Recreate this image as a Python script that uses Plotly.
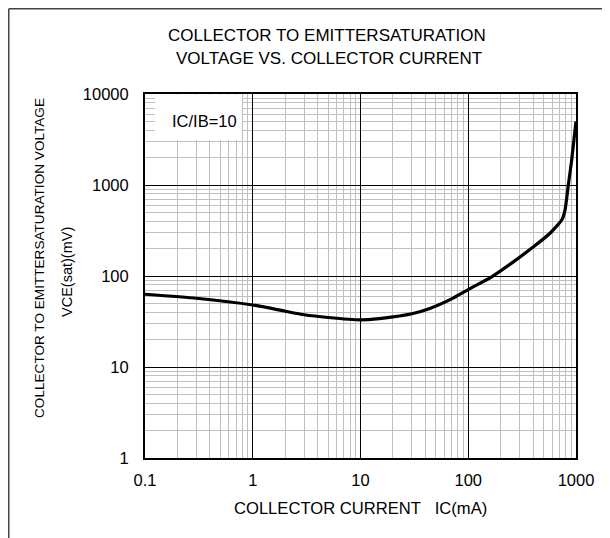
import plotly.graph_objects as go

ic_ma = [0.1, 0.3, 1, 2, 3, 5, 10, 15, 20, 30, 44, 70, 100, 165, 260, 400, 574, 737, 791, 849, 912, 1000]
vce_mv = [63, 57, 48, 41, 37.5, 35, 33, 34, 35.5, 38.5, 44, 56, 71, 98, 142, 208, 295, 412, 531, 1000, 1883, 5000]

x_ticks = [0.1, 1, 10, 100, 1000]
x_tick_text = ["0.1", "1", "10", "100", "1000"]
y_ticks = [1, 10, 100, 1000, 10000]
y_tick_text = ["1", "10", "100", "1000", "10000"]

FONT = "Liberation Sans, Arial, sans-serif"
OFF = 8  # page body margin
W, H = 610 - OFF, 538 - OFF
L, R, T, B = 145 - OFF, 576 - OFF, 94 - OFF, 458 - OFF

def px(x):
    return (x - OFF - L) / (R - L)

def py(y):
    return (B - (y - OFF)) / (B - T)

fig = go.Figure()
fig.add_trace(go.Scatter(x=ic_ma, y=vce_mv, mode="lines",
                         line=dict(color="black", width=3.2, shape="spline", smoothing=0.5),
                         showlegend=False, hoverinfo="skip"))

axis_common = dict(
    type="log", showline=True, linecolor="black", linewidth=2, mirror=True,
    showgrid=True, gridcolor="black", gridwidth=1,
    ticks="", zeroline=False,
    tickfont=dict(family=FONT, size=16.5, color="black"),
    minor=dict(showgrid=True, gridcolor="#c0c0c0", gridwidth=1.2, dtick="D1", ticks=""),
)

fig.update_xaxes(range=[-1, 3], tickvals=x_ticks, ticktext=x_tick_text, ticklabelstandoff=6, **axis_common)
fig.update_yaxes(range=[0, 4], tickvals=y_ticks, ticktext=y_tick_text, ticklabelstandoff=11, **axis_common)

anns = [
    dict(text="COLLECTOR TO EMITTERSATURATION", x=px(327), y=py(36), size=17),
    dict(text="VOLTAGE VS. COLLECTOR CURRENT", x=px(329), y=py(59), size=17),
    dict(text="COLLECTOR CURRENT\u00a0\u00a0\u00a0IC(mA)", x=px(360), y=py(508), size=16.6),
    dict(text="COLLECTOR TO EMITTERSATURATION VOLTAGE", x=px(40), y=py(258), size=13.6, textangle=-90),
    dict(text="VCE(sat)(mV)", x=px(67), y=py(272), size=14.5, textangle=-90),
]
for a in anns:
    size = a.pop("size")
    fig.add_annotation(xref="paper", yref="paper", showarrow=False,
                       xanchor="center", yanchor="middle",
                       font=dict(family=FONT, size=size, color="black"), **a)

# white label box
fig.add_shape(type="rect", xref="paper", yref="paper", x0=px(155), x1=px(242), y0=py(140), y1=py(95),
              fillcolor="white", line=dict(width=0), layer="above")
fig.add_annotation(xref="paper", yref="paper", showarrow=False, text="IC/IB=10",
                   x=px(204), y=py(121), xanchor="center", yanchor="middle",
                   font=dict(family=FONT, size=16.5, color="black"))

# outer frame lines (left and top), as near as the page allows
fig.add_shape(type="line", xref="paper", yref="paper", x0=px(8.75), x1=px(8.75), y0=py(8.75), y1=py(545),
              line=dict(color="#444", width=1.5))
fig.add_shape(type="line", xref="paper", yref="paper", x0=px(8.75), x1=px(615), y0=py(8.75), y1=py(8.75),
              line=dict(color="#444", width=1.5))

fig.update_layout(width=W, height=H, margin=dict(l=L, r=W - R, t=T, b=H - B),
                  plot_bgcolor="white", paper_bgcolor="white", showlegend=False)

fig.write_html("out.html")
